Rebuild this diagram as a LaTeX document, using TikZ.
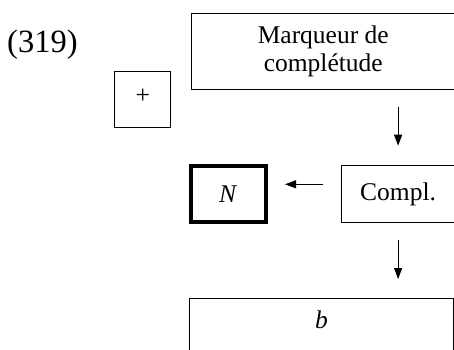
\documentclass[tikz,border=0pt]{standalone}
\usepackage{fontspec}
\setmainfont{Liberation Serif}
\usetikzlibrary{arrows.meta}
\begin{document}
\begin{tikzpicture}[x=1pt,y=-1pt,
  box/.style={draw, line width=1pt, inner sep=0pt, anchor=center, font=\fontsize{25.5}{28}\selectfont},
  thickbox/.style={box, line width=4pt},
  arr/.style={line width=1pt, -{Triangle[length=11pt,width=8pt]}}]
\useasboundingbox (0,0) rectangle (454,349);
\clip (0,0) rectangle (454,349);
\node[anchor=base west, inner sep=0pt, font=\fontsize{32.5}{36}\selectfont] (num) at (7,52) {(319)};
\node[box, minimum width=263.5pt, minimum height=75.8pt, align=center] (top) at (323.25,51.7) {Marqueur de\\complétude};
\node[box, minimum width=56pt, minimum height=56pt] (plus) at (142.8,99.2) {\raisebox{5pt}{+}};
\node[thickbox, minimum width=75.5pt, minimum height=56pt] (N) at (228.25,194) {\textit{N}};
\node[box, minimum width=113.8pt, minimum height=57.3pt] (compl) at (398.1,194.15) {Compl.};
\node[box, minimum width=263.2pt, minimum height=61.2pt, text height=17.4pt, text depth=19.5pt] (b) at (321.4,329.4) {\textit{b}};
\draw[arr, shorten <=16.9pt, shorten >=19.3pt] (top.south -| compl.center) -- (compl.north);
\draw[arr, shorten <=17.4pt, shorten >=17pt] ([yshift=9.85pt]compl.west) -- ([yshift=9.85pt]compl.west -| N.east);
\draw[arr, shorten <=16.7pt, shorten >=19.3pt] (compl.south) -- (compl.south |- b.north);
\end{tikzpicture}
\end{document}
